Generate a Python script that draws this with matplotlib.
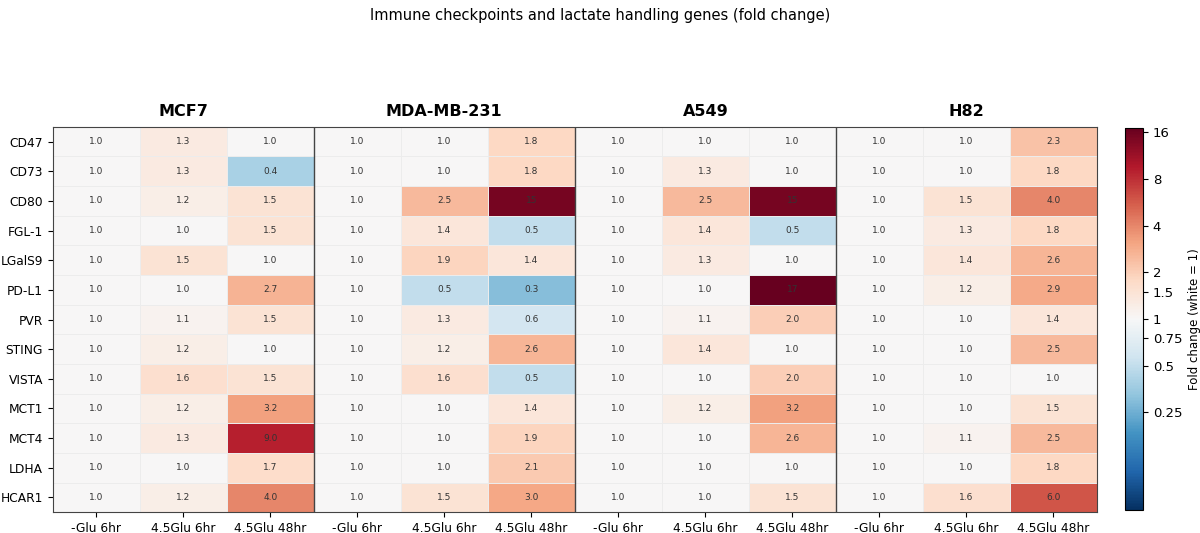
import numpy as np
import matplotlib
matplotlib.use("Agg")
import matplotlib.pyplot as plt
from matplotlib.colors import LogNorm

genes = ["CD47", "CD73", "CD80", "FGL-1", "LGalS9", "PD-L1", "PVR",
         "STING", "VISTA", "MCT1", "MCT4", "LDHA", "HCAR1"]
conditions = ["-Glu 6hr", "4.5Glu 6hr", "4.5Glu 48hr"]
cell_lines = ["MCF7", "MDA-MB-231", "A549", "H82"]

# fold change per cell line, columns = conditions
mcf7 = [[1.0, 1.3, 1.0], [1.0, 1.3, 0.4], [1.0, 1.2, 1.5], [1.0, 1.0, 1.5],
        [1.0, 1.5, 1.0], [1.0, 1.0, 2.7], [1.0, 1.1, 1.5], [1.0, 1.2, 1.0],
        [1.0, 1.6, 1.5], [1.0, 1.2, 3.2], [1.0, 1.3, 9.0], [1.0, 1.0, 1.7],
        [1.0, 1.2, 4.0]]
mda231 = [[1.0, 1.0, 1.8], [1.0, 1.0, 1.8], [1.0, 2.5, 15], [1.0, 1.4, 0.5],
          [1.0, 1.9, 1.4], [1.0, 0.5, 0.3], [1.0, 1.3, 0.6], [1.0, 1.2, 2.6],
          [1.0, 1.6, 0.5], [1.0, 1.0, 1.4], [1.0, 1.0, 1.9], [1.0, 1.0, 2.1],
          [1.0, 1.5, 3.0]]
a549 = [[1.0, 1.0, 1.0], [1.0, 1.3, 1.0], [1.0, 2.5, 15], [1.0, 1.4, 0.5],
        [1.0, 1.3, 1.0], [1.0, 1.0, 17], [1.0, 1.1, 2.0], [1.0, 1.4, 1.0],
        [1.0, 1.0, 2.0], [1.0, 1.2, 3.2], [1.0, 1.0, 2.6], [1.0, 1.0, 1.0],
        [1.0, 1.0, 1.5]]
h82 = [[1.0, 1.0, 2.3], [1.0, 1.0, 1.8], [1.0, 1.5, 4.0], [1.0, 1.3, 1.8],
       [1.0, 1.4, 2.6], [1.0, 1.2, 2.9], [1.0, 1.0, 1.4], [1.0, 1.0, 2.5],
       [1.0, 1.0, 1.0], [1.0, 1.0, 1.5], [1.0, 1.1, 2.5], [1.0, 1.0, 1.8],
       [1.0, 1.6, 6.0]]

data = np.hstack([np.array(mcf7), np.array(mda231), np.array(a549), np.array(h82)])
vmax = 17
norm = LogNorm(vmin=1 / vmax, vmax=vmax)

fig = plt.figure(figsize=(12, 5.33), dpi=100)
ax = fig.add_axes([0.044, 0.039, 0.870, 0.723])
cax = fig.add_axes([0.9375, 0.043, 0.015, 0.717])

nrows, ncols = data.shape
im = ax.pcolormesh(np.arange(ncols + 1) - 0.5, np.arange(nrows + 1) - 0.5, data,
                   cmap="RdBu_r", norm=norm, edgecolors="#ececec", linewidth=0.5)
ax.set_xlim(-0.5, ncols - 0.5)
ax.set_ylim(nrows - 0.5, -0.5)

for i in range(nrows):
    for j in range(ncols):
        v = data[i, j]
        txt = f"{v:.0f}" if v >= 10 else f"{v:.1f}"
        ax.text(j, i, txt, ha="center", va="center", fontsize=6.5, color="#333333")

ax.set_yticks(range(nrows))
ax.set_yticklabels(genes, fontsize=8.8)
ax.set_xticks(range(ncols))
ax.set_xticklabels(conditions * len(cell_lines), fontsize=8.8)

# separators between cell lines + titles
for k, name in enumerate(cell_lines):
    if k > 0:
        ax.axvline(3 * k - 0.5, color="#444444", linewidth=1.0)
    ax.text(3 * k + 1, -0.75, name, ha="center", va="bottom",
            fontsize=11.5, fontweight="bold")

for s in ax.spines.values():
    s.set_color("#444444")

cb = fig.colorbar(im, cax=cax)
ticks = [0.25, 0.5, 0.75, 1, 1.5, 2, 4, 8, 16]
cb.set_ticks(ticks)
cb.set_ticklabels(["0.25", "0.5", "0.75", "1", "1.5", "2", "4", "8", "16"])
cb.ax.minorticks_off()
cb.ax.tick_params(labelsize=9.5)
cb.set_label("Fold change (white = 1)", fontsize=8.5)

fig.suptitle("Immune checkpoints and lactate handling genes (fold change)",
             fontsize=10.5, y=0.985)

fig.savefig("out.png", dpi=100)
